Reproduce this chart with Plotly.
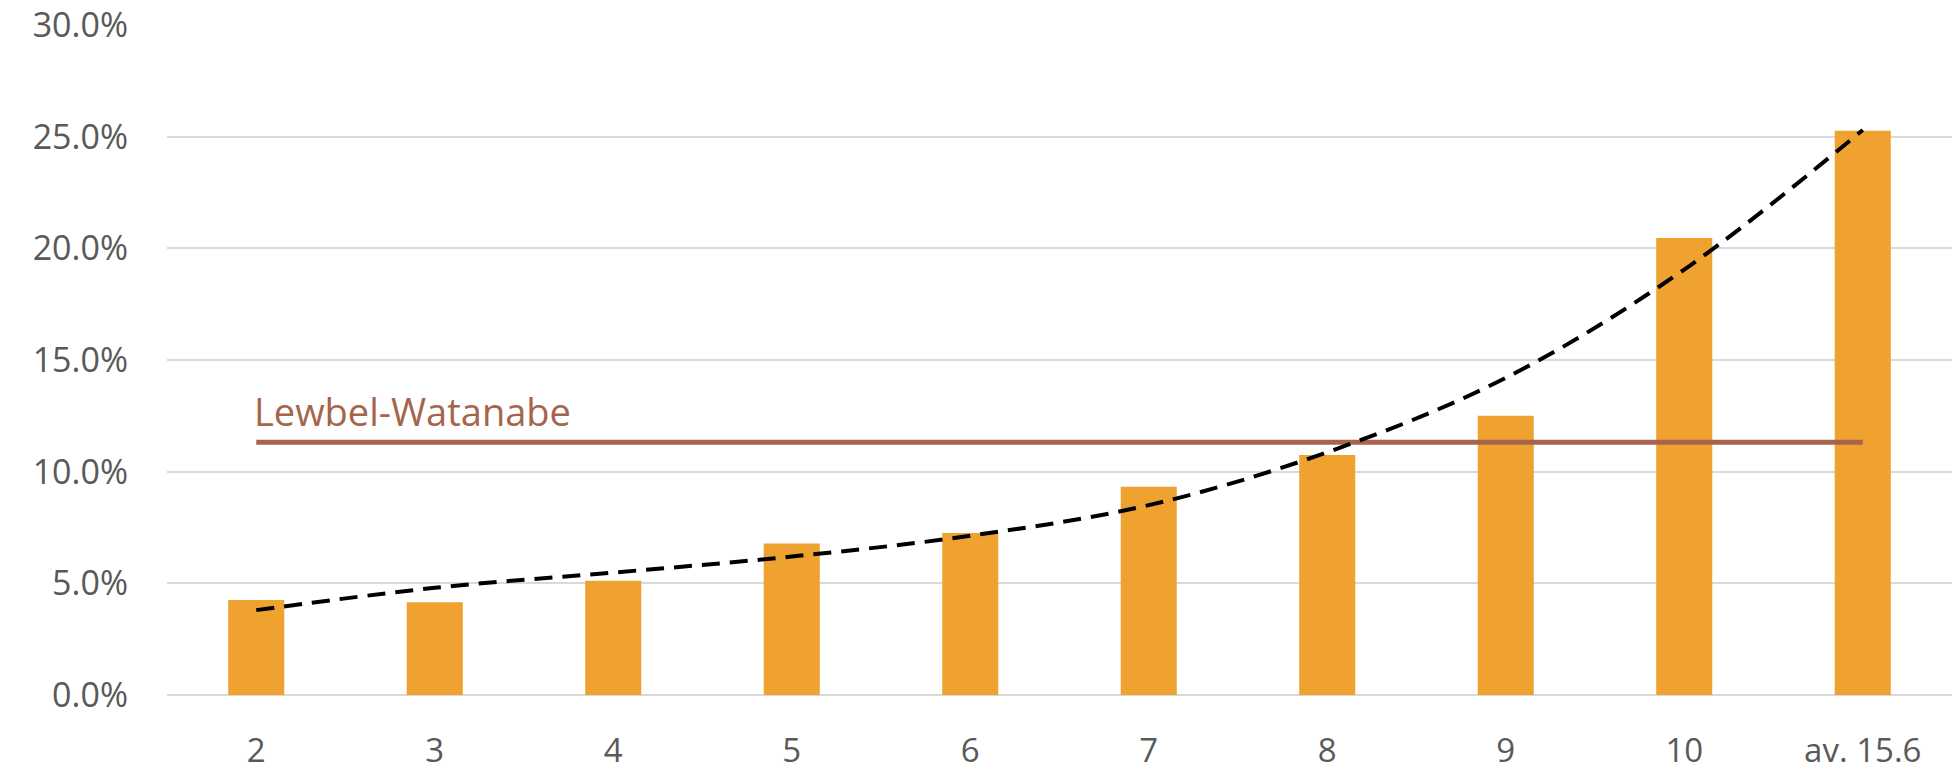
import plotly.graph_objects as go

# Category labels along the horizontal axis
categories = ["2", "3", "4", "5", "6", "7", "8", "9", "10", "av. 15.6"]

# Bar heights (share, in %)
bar_values = [4.25, 4.15, 5.12, 6.78, 7.25, 9.32, 10.75, 12.5, 20.46, 25.27]

# Trend curve read at each category
trend_values = [3.8, 4.8, 5.48, 6.2, 7.13, 8.5, 10.87, 14.2, 19.05, 25.3]

# Reference level
lewbel_level = 11.32
lewbel_label = "Lewbel-Watanabe"

# Y axis ticks
y_ticks = [0, 5, 10, 15, 20, 25, 30]
y_tick_text = ["0.0%", "5.0%", "10.0%", "15.0%", "20.0%", "25.0%", "30.0%"]

BAR_COLOR = "#EFA22F"
LEWBEL_COLOR = "#A6644C"
GRID_COLOR = "#D9D9D9"
TEXT_COLOR = "#595959"
FONT = "'Open Sans', Lato, sans-serif"

fig = go.Figure()

fig.add_trace(go.Bar(
    x=categories,
    y=bar_values,
    marker=dict(color=BAR_COLOR, line=dict(width=0)),
    hoverinfo="x+y",
))

fig.add_trace(go.Scatter(
    x=categories,
    y=[lewbel_level] * len(categories),
    mode="lines",
    line=dict(color=LEWBEL_COLOR, width=5),
    hoverinfo="skip",
))

fig.add_trace(go.Scatter(
    x=categories,
    y=trend_values,
    mode="lines",
    line=dict(color="black", width=4, dash="18px,10px", shape="spline", smoothing=1.0),
    hoverinfo="skip",
))

# label sits above the left end of the reference line (category index 0)
fig.add_annotation(
    x=0, y=12.7, xref="x", yref="y",
    text=lewbel_label, showarrow=False,
    xanchor="left", yanchor="middle", xshift=-4,
    font=dict(family=FONT, size=38, color=LEWBEL_COLOR),
)

fig.update_layout(
    width=1954, height=774,
    margin=dict(l=167, r=2, t=25, b=79, autoexpand=False),
    paper_bgcolor="white", plot_bgcolor="white",
    showlegend=False,
    bargap=0.686,
    font=dict(family=FONT, color=TEXT_COLOR),
)

fig.update_xaxes(
    type="category", automargin=False,
    showgrid=False, showline=False, zeroline=False,
    ticks="", ticklabelstandoff=33, ticklabeloverflow="allow",
    tickfont=dict(family=FONT, size=33, color=TEXT_COLOR),
)

fig.update_yaxes(
    range=[0, 30], automargin=False,
    tickvals=y_ticks, ticktext=y_tick_text,
    showgrid=True, gridcolor=GRID_COLOR, gridwidth=2,
    zeroline=True, zerolinecolor=GRID_COLOR, zerolinewidth=2,
    showline=False, ticks="", ticklabelstandoff=38, ticklabeloverflow="allow",
    tickfont=dict(family=FONT, size=34, color=TEXT_COLOR),
)

fig.write_html("out.html")
